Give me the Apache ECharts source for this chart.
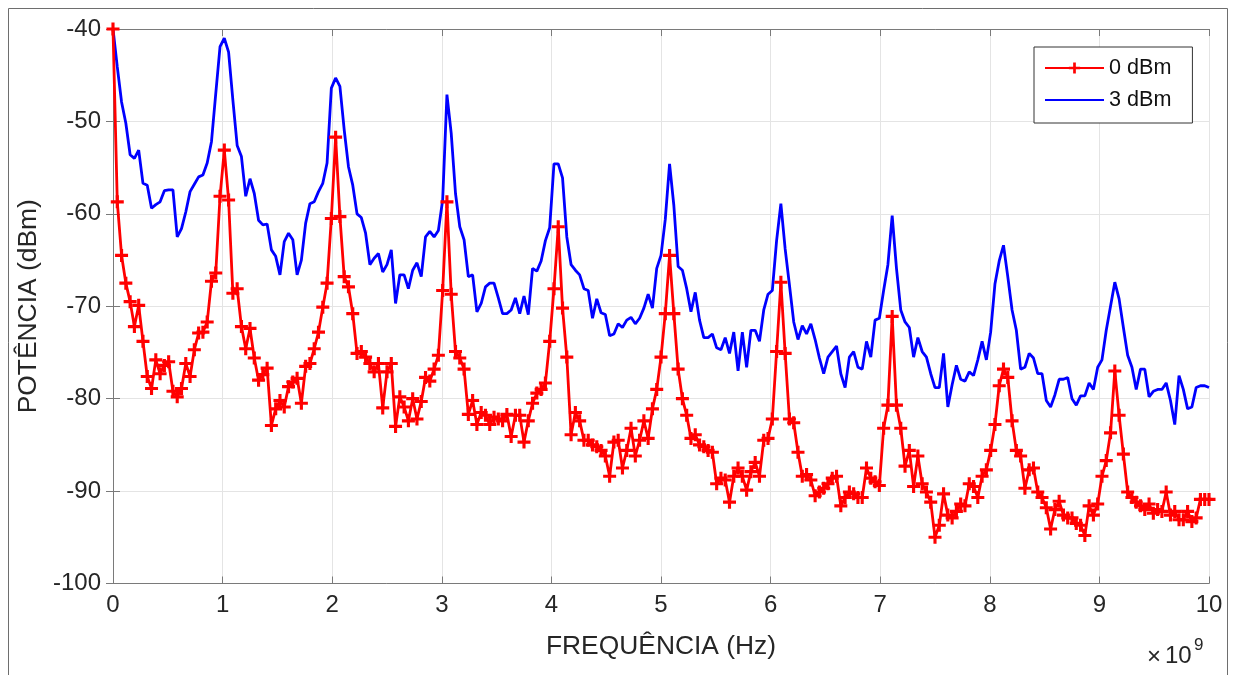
<!DOCTYPE html>
<html>
<head>
<meta charset="utf-8">
<script src="https://cdn.jsdelivr.net/npm/echarts@6/dist/echarts.min.js"></script>
<style>
  html, body { margin: 0; padding: 0; background: #fff; }
  #chart { width: 1237px; height: 675px; }
</style>
</head>
<body>
<div id="chart"></div>
<script>
// Spectrum samples: 257 bins from 0 to 10 GHz (step 10/256 GHz)
const FREQ_STEP_GHZ = 10 / 256;

const xTickLabels = ['0', '1', '2', '3', '4', '5', '6', '7', '8', '9', '10'];
const yTickLabels = ['-100', '-90', '-80', '-70', '-60', '-50', '-40'];

const seriesNames = ['0 dBm', '3 dBm'];

// Power (dBm) for the 0 dBm input, one value per bin
const power0dBm = [
  -40.0, -58.7, -64.5, -67.5, -69.5, -72.2, -69.9, -73.8, -77.6, -78.9,
  -75.8, -77.3, -76.4, -76.0, -79.2, -79.8, -78.9, -76.2, -77.6, -74.7,
  -72.9, -72.8, -71.7, -67.3, -66.4, -58.1, -53.1, -58.5, -68.6, -68.1,
  -72.2, -74.6, -72.4, -75.6, -78.0, -77.4, -76.7, -82.9, -81.1, -80.2,
  -80.9, -78.7, -78.2, -77.8, -80.5, -76.5, -76.2, -74.6, -72.8, -70.1,
  -67.5, -60.5, -51.7, -60.3, -66.8, -67.9, -70.8, -75.1, -74.9, -75.5,
  -76.2, -77.1, -76.2, -81.0, -77.1, -76.2, -83.0, -79.8, -80.9, -82.4,
  -80.0, -82.2, -80.3, -77.7, -78.1, -76.8, -75.3, -68.3, -58.7, -68.7,
  -74.9, -75.6, -76.8, -81.7, -80.2, -82.8, -81.5, -81.8, -82.8, -82.0,
  -82.2, -82.4, -81.7, -84.1, -81.8, -81.8, -84.7, -82.4, -80.5, -79.4,
  -79.0, -78.3, -73.8, -68.1, -61.4, -70.2, -75.5, -83.9, -81.5, -82.4,
  -84.5, -84.5, -85.0, -85.2, -85.6, -86.2, -88.4, -84.7, -84.5, -87.5,
  -85.6, -83.2, -86.2, -84.5, -82.4, -84.3, -81.1, -79.0, -75.5, -70.8,
  -64.5, -70.8, -76.8, -80.0, -81.8, -84.3, -83.9, -85.0, -85.2, -85.6,
  -85.8, -89.2, -88.6, -88.8, -91.2, -88.4, -87.5, -88.4, -89.9, -87.9,
  -86.9, -88.4, -84.5, -84.3, -82.2, -74.9, -67.4, -75.1, -82.2, -82.6,
  -85.8, -88.4, -88.2, -88.8, -90.5, -90.1, -89.7, -89.2, -88.6, -88.4,
  -91.6, -90.7, -90.1, -90.3, -90.7, -90.7, -87.5, -88.6, -89.0, -89.4,
  -83.2, -80.7, -71.1, -80.7, -83.2, -87.3, -85.6, -89.5, -86.2, -89.2,
  -90.1, -91.2, -95.0, -93.7, -90.3, -92.6, -92.9, -92.2, -91.4, -91.6,
  -89.2, -89.5, -90.7, -88.4, -87.7, -85.6, -82.8, -78.6, -76.8, -77.7,
  -82.4, -85.6, -86.2, -89.7, -87.7, -87.5, -90.1, -90.7, -91.8, -94.1,
  -92.0, -91.1, -92.6, -92.9, -92.9, -93.5, -93.7, -94.8, -91.6, -92.6,
  -91.4, -88.4, -86.7, -83.7, -77.0, -81.8, -86.0, -90.1, -90.7, -91.2,
  -91.6, -92.0, -91.4, -92.4, -92.0, -92.2, -90.1, -92.6, -92.2, -93.1,
  -93.1, -92.2, -93.3, -92.9, -90.9, -90.9, -90.9
];

// Power (dBm) for the 3 dBm input, one value per bin
const power3dBm = [
  -40.0, -44.1, -47.9, -50.2, -53.6, -54.0, -53.1, -56.7, -56.9, -59.4,
  -59.0, -58.7, -57.5, -57.4, -57.4, -62.5, -61.6, -59.8, -57.6, -56.8,
  -56.0, -55.8, -54.5, -52.2, -47.0, -41.9, -41.0, -42.5, -47.7, -52.6,
  -53.8, -58.1, -56.2, -57.8, -60.7, -61.2, -61.1, -63.9, -64.6, -66.6,
  -63.0, -62.1, -62.8, -66.6, -65.0, -61.0, -58.9, -58.7, -57.6, -56.7,
  -54.5, -46.4, -45.3, -46.2, -50.9, -54.9, -56.9, -60.0, -60.4, -62.1,
  -65.5, -64.8, -64.3, -66.3, -65.5, -63.9, -69.7, -66.6, -66.6, -68.1,
  -66.1, -65.3, -66.8, -62.5, -61.9, -62.5, -61.8, -58.5, -47.1, -51.3,
  -57.8, -61.4, -62.8, -66.8, -66.6, -70.6, -69.7, -67.9, -67.5, -67.5,
  -69.1, -70.8, -70.8, -70.4, -69.1, -70.8, -68.9, -70.9, -65.9, -66.2,
  -65.1, -62.9, -61.5, -54.6, -54.6, -56.1, -62.5, -65.5, -66.1, -66.6,
  -68.1, -68.3, -71.3, -69.2, -70.7, -70.9, -73.2, -73.0, -71.9, -72.3,
  -71.5, -71.2, -71.9, -71.3, -70.2, -68.7, -70.2, -65.9, -64.5, -60.6,
  -54.6, -59.1, -65.7, -66.1, -68.1, -70.6, -68.5, -71.5, -73.4, -73.4,
  -73.0, -74.5, -74.7, -73.4, -75.1, -72.8, -77.0, -72.8, -76.6, -72.6,
  -72.6, -73.8, -70.4, -68.7, -68.3, -62.9, -58.9, -63.8, -67.7, -71.7,
  -73.6, -72.1, -73.0, -71.9, -73.6, -75.6, -77.3, -75.5, -74.9, -74.3,
  -77.3, -78.8, -75.5, -74.9, -76.6, -76.8, -73.8, -75.5, -71.5, -71.3,
  -68.3, -65.5, -60.2, -65.9, -70.4, -71.7, -72.3, -75.5, -73.4, -74.9,
  -75.5, -77.3, -78.8, -78.8, -75.1, -80.9, -78.5, -76.4, -77.9, -78.1,
  -77.1, -77.5, -75.8, -73.8, -75.8, -72.8, -67.6, -65.1, -63.4, -66.8,
  -70.4, -72.6, -76.8, -76.6, -75.1, -75.6, -77.3, -77.3, -80.2, -80.9,
  -79.6, -77.9, -77.9, -77.7, -80.0, -80.7, -79.7, -79.7, -78.3, -79.0,
  -76.6, -75.8, -72.6, -70.0, -67.4, -69.2, -72.3, -75.3, -76.6, -79.0,
  -76.8, -76.8, -79.8, -79.2, -79.0, -79.0, -78.3, -80.2, -82.8, -77.5,
  -79.0, -81.1, -80.9, -78.8, -78.6, -78.6, -78.8
];

const toPoints = (vals) => vals.map((v, i) => [i * FREQ_STEP_GHZ, v]);

const FONT = '"Liberation Sans", Arial, Helvetica, sans-serif';
const AXIS_COLOR = '#7a7a7a';
const LABEL_COLOR = '#262626';
const GRID_COLOR = '#e4e4e4';

// '+' marker
const PLUS = 'path://M0,3.8H3.8V0H6.2V3.8H10V6.2H6.2V10H3.8V6.2H0Z';

const chart = echarts.init(document.getElementById('chart'), null, { renderer: 'canvas' });

const baseAxisLine = { show: true, lineStyle: { color: AXIS_COLOR, width: 1 } };
const baseTick = { show: true, inside: true, length: 7, lineStyle: { color: AXIS_COLOR, width: 1 } };

chart.setOption({
  animation: false,
  backgroundColor: '#ffffff',
  textStyle: { fontFamily: FONT },
  grid: { left: 113, right: 28, top: 29, bottom: 91.5, containLabel: false },
  legend: {
    data: [
      { name: seriesNames[0] },
      { name: seriesNames[1], itemStyle: { opacity: 0 } }
    ],
    orient: 'vertical',
    left: 1034,
    top: 47,
    backgroundColor: '#ffffff',
    borderColor: '#333333',
    borderWidth: 1,
    borderRadius: 0,
    padding: [10, 21, 12, 10],
    itemWidth: 59,
    itemHeight: 14,
    itemGap: 10,
    textStyle: { fontSize: 21.6, color: '#111', fontFamily: FONT }
  },
  xAxis: [
    {
      type: 'value', min: 0, max: 10, interval: 1,
      name: 'FREQUÊNCIA (Hz)', nameLocation: 'middle', nameGap: 50,
      nameTextStyle: { fontSize: 26.4, color: LABEL_COLOR, fontFamily: FONT },
      axisLine: baseAxisLine, axisTick: baseTick,
      axisLabel: { fontSize: 24, color: LABEL_COLOR, margin: 10, fontFamily: FONT,
        formatter: (v) => xTickLabels[Math.round(v)] },
      splitLine: { show: true, lineStyle: { color: GRID_COLOR, width: 1 } }
    },
    {
      type: 'value', min: 0, max: 10, interval: 1, position: 'top',
      axisLine: baseAxisLine, axisTick: baseTick,
      axisLabel: { show: false }, splitLine: { show: false }
    }
  ],
  yAxis: [
    {
      type: 'value', min: -100, max: -40, interval: 10,
      name: 'POTÊNCIA (dBm)', nameLocation: 'middle', nameGap: 69, nameRotate: 90,
      nameTextStyle: { fontSize: 26.4, color: LABEL_COLOR, fontFamily: FONT },
      axisLine: baseAxisLine, axisTick: baseTick,
      axisLabel: { fontSize: 24, color: LABEL_COLOR, margin: 12, fontFamily: FONT,
        formatter: (v) => yTickLabels[Math.round((v + 100) / 10)] },
      splitLine: { show: true, lineStyle: { color: GRID_COLOR, width: 1 } }
    },
    {
      type: 'value', min: -100, max: -40, interval: 10, position: 'right',
      axisLine: baseAxisLine, axisTick: baseTick,
      axisLabel: { show: false }, splitLine: { show: false }
    }
  ],
  series: [
    {
      name: seriesNames[0], type: 'line', data: toPoints(power0dBm),
      xAxisIndex: 0, yAxisIndex: 0,
      symbol: PLUS, symbolSize: 13, showAllSymbol: true,
      lineStyle: { color: '#ff0000', width: 2.8 },
      itemStyle: { color: '#ff0000' },
      z: 3
    },
    {
      name: seriesNames[1], type: 'line', data: toPoints(power3dBm),
      xAxisIndex: 0, yAxisIndex: 0,
      symbol: 'none', showSymbol: false,
      lineStyle: { color: '#0000ff', width: 2.8 },
      itemStyle: { color: '#0000ff' },
      z: 2
    }
  ],
  graphic: [
    {
      type: 'rect', silent: true, z: -1,
      shape: { x: 8.5, y: 8.5, width: 1219, height: 720 },
      style: { fill: 'none', stroke: '#6e6e6e', lineWidth: 1 }
    },
    // axis exponent: ×10^9
    {
      type: 'text', left: 1147, top: 645, silent: true,
      style: { text: '×', fontSize: 24, fill: LABEL_COLOR, fontFamily: FONT }
    },
    {
      type: 'text', left: 1165, top: 644, silent: true,
      style: { text: '10', fontSize: 24, fill: LABEL_COLOR, fontFamily: FONT }
    },
    {
      type: 'text', left: 1194, top: 637, silent: true,
      style: { text: '9', fontSize: 17, fill: LABEL_COLOR, fontFamily: FONT }
    }
  ]
});
</script>
</body>
</html>
